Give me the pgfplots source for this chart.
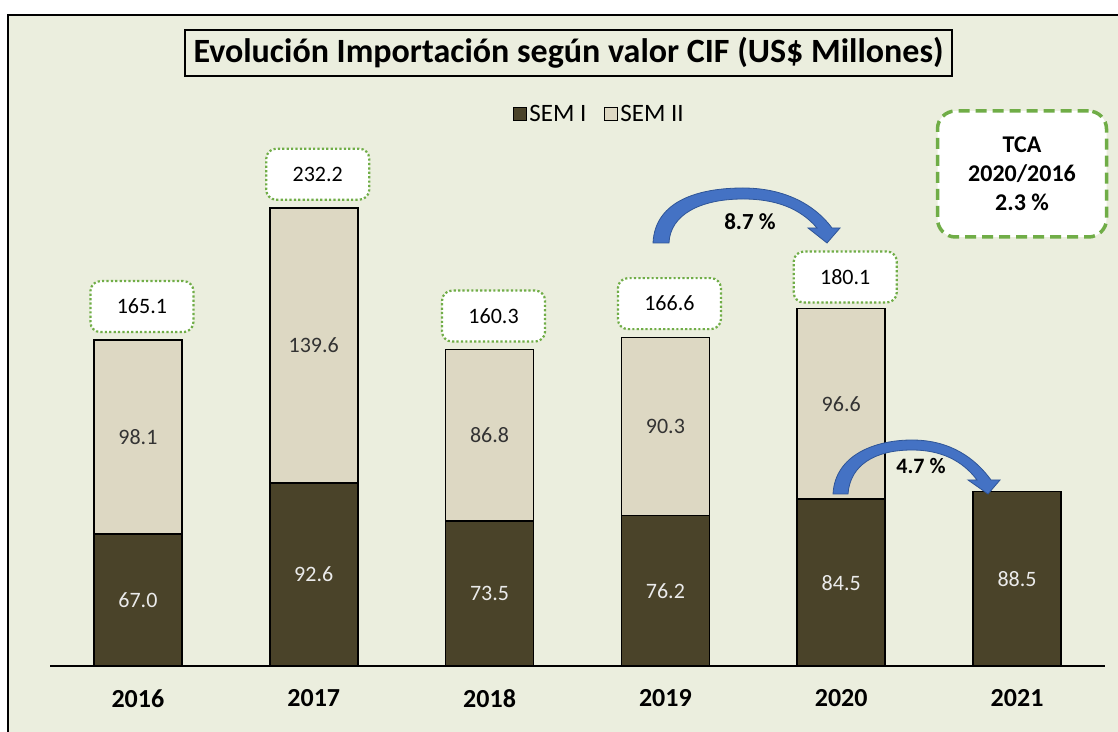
\documentclass[border=0pt]{standalone}
\usepackage{pgfplots}
\pgfplotsset{compat=1.18}
\usepackage{fontspec}
\setmainfont{Carlito}
\usetikzlibrary{arrows.meta}
\definecolor{bg}{HTML}{EBEEDE}
\definecolor{semI}{HTML}{4A4329}
\definecolor{semII}{HTML}{DDD8C3}
\definecolor{grn}{HTML}{70AD47}
\definecolor{arrowblue}{HTML}{4472C4}
\definecolor{arrowedge}{HTML}{2F5597}
\begin{document}
\begin{tikzpicture}[x=1pt,y=1pt]
\useasboundingbox (0,0) rectangle (1118,731);
\clip (0,0) rectangle (1118,731);
\fill[white] (0,0) rectangle (1118,731);
\fill[bg] (8,-20) rectangle (1140,716);
\draw[black, line width=2pt] (8,-20) rectangle (1140,716);
% title
\node[draw=black, line width=1.2pt, fill=bg, minimum width=767pt, minimum height=46pt,
      font=\fontsize{34}{38}\selectfont\bfseries] at (568.5,678) {Evolución Importación según valor CIF (US\$ Millones)};
\begin{axis}[
  at={(50pt,65pt)}, anchor=south west,
  scale only axis, width=1055pt, height=592pt,
  xmin=-0.5, xmax=5.5, ymin=0, ymax=300,
  ybar stacked, bar width=88pt,
  axis x line*=bottom, axis y line=none,
  x axis line style={line width=1.6pt, -},
  xtick={0,1,2,3,4,5},
  xticklabels={2016,2017,2018,2019,2020,2021},
  major tick length=0pt,
  xticklabel style={font=\fontsize{26}{30}\selectfont\bfseries, yshift=-20pt},
  legend style={at={(0.521,0.932)}, anchor=center, draw=none, fill=none,
    legend columns=2, font=\fontsize{25}{28}\selectfont,
    /tikz/every even column/.append style={column sep=16pt}},
  legend image code/.code={\draw[#1, line width=1pt] (0pt,-6.5pt) rectangle (13pt,6.5pt);},
]
\addplot[fill=semI, draw=black, line width=1.6pt] coordinates {(0,67.0) (1,92.6) (2,73.5) (3,76.2) (4,84.5) (5,88.5)};
\addplot[fill=semII, draw=black, line width=1.6pt] coordinates {(0,98.1) (1,139.6) (2,86.8) (3,90.3) (4,96.6) (5,0)};
\legend{SEM I, SEM II}
\end{axis}
\begin{axis}[
  at={(50pt,65pt)}, anchor=south west,
  scale only axis, width=1055pt, height=592pt,
  xmin=-0.5, xmax=5.5, ymin=0, ymax=300,
  axis lines=none,
  point meta=explicit symbolic,
]
% SEM I labels (segment centres)
\addplot[draw=none, mark=none, nodes near coords,
  every node near coord/.append style={anchor=center, text=white!92!black, font=\fontsize{22}{26}\selectfont}]
  coordinates {(0,33.5)[67.0] (1,46.3)[92.6] (2,36.75)[73.5] (3,38.1)[76.2] (4,42.25)[84.5] (5,44.25)[88.5]};
% SEM II labels
\addplot[draw=none, mark=none, nodes near coords,
  every node near coord/.append style={anchor=center, text=black!80, font=\fontsize{22}{26}\selectfont}]
  coordinates {(0,116.05)[98.1] (1,162.4)[139.6] (2,116.9)[86.8] (3,121.35)[90.3] (4,132.8)[96.6]};
% totals
\addplot[draw=none, mark=none, nodes near coords,
  every node near coord/.append style={anchor=south, yshift=7pt, xshift=4pt, fill=white,
    draw=grn, line width=2.2pt, dash pattern=on 2.2pt off 2.2pt, rounded corners=10pt,
    minimum width=103pt, minimum height=51pt, text=black, font=\fontsize{22}{26}\selectfont}]
  coordinates {(0,165.1)[165.1] (1,232.2)[232.2] (2,160.3)[160.3] (3,166.6)[166.6] (4,180.1)[180.1]};
\end{axis}
% TCA box
\node[draw=grn, line width=3.5pt, dash pattern=on 11pt off 6pt, rounded corners=18pt, fill=white,
      minimum width=169pt, minimum height=126pt, align=center,
      font=\fontsize{24}{29}\selectfont\bfseries] at (1022,557) {TCA\\2020/2016\\2.3 \%};
% curved arrows (pixel coords, y flipped)
\begin{scope}[yscale=-1, yshift=-731pt]
\filldraw[fill=arrowblue, draw=arrowedge, line width=0.8pt]
  (653,243) .. controls (655,200) and (700,188) .. (743,188)
  .. controls (785,188) and (815,205) .. (832,228)
  -- (840,228) -- (827,243) -- (808,228) -- (817,228)
  .. controls (800,208) and (775,199) .. (743,199)
  .. controls (700,199) and (670,215) .. (669,243) -- cycle;
\filldraw[fill=arrowblue, draw=arrowedge, line width=0.8pt]
  (833,494) .. controls (835,455) and (875,440) .. (912,440)
  .. controls (950,440) and (975,458) .. (991,480)
  -- (1000,480) -- (988,494) -- (968,480) -- (977,480)
  .. controls (962,460) and (940,450) .. (912,450)
  .. controls (875,450) and (850,465) .. (848,494) -- cycle;
\end{scope}
\node[font=\fontsize{23}{27}\selectfont\bfseries] at (750,731-222) {8.7 \%};
\node[font=\fontsize{22}{26}\selectfont\bfseries] at (921,731-466) {4.7 \%};
\end{tikzpicture}
\end{document}
